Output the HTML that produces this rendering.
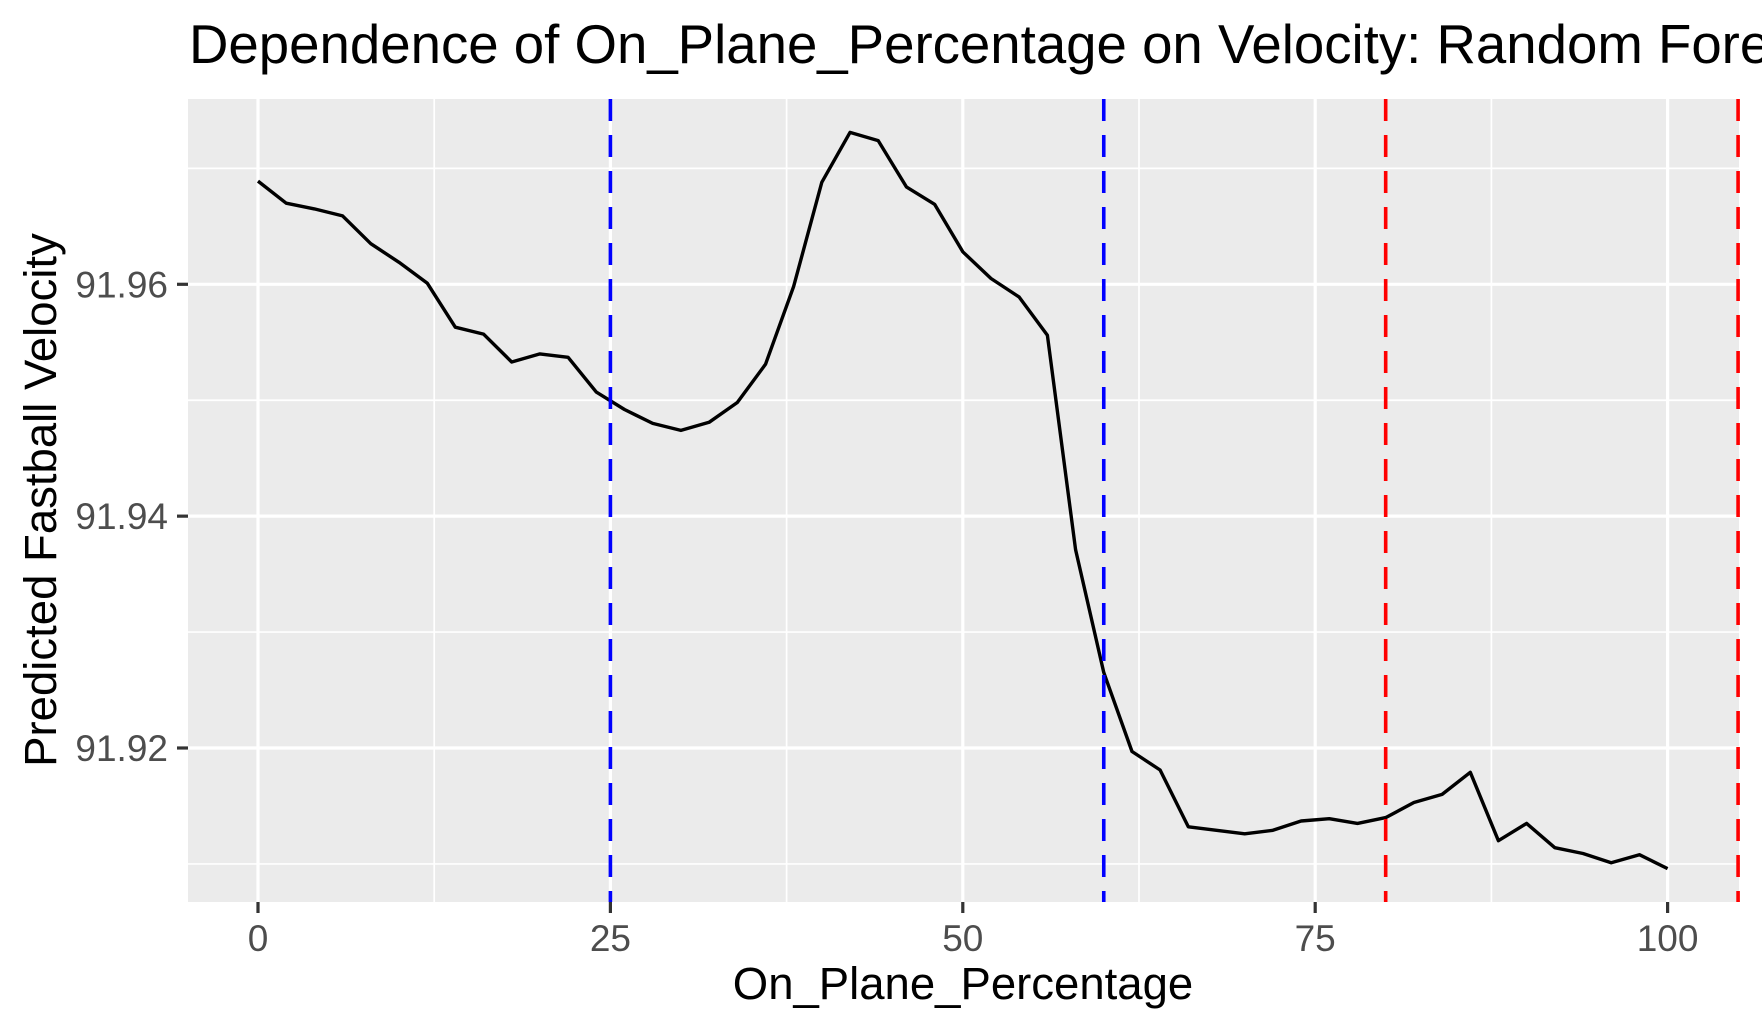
<!DOCTYPE html>
<html><head><meta charset="utf-8"><style>
html,body{margin:0;padding:0;background:#fff;}
svg{display:block;font-family:"Liberation Sans",Arial,sans-serif;}
</style></head><body>
<svg id="chart" width="1762" height="1032" viewBox="0 0 1762 1032" xmlns="http://www.w3.org/2000/svg">
<rect width="1762" height="1032" fill="#fff"/>
<text x="189" y="63" font-size="54.6" fill="#000">Dependence of On_Plane_Percentage on Velocity: Random Forest</text>
<g id="plot"></g>
<text x="963" y="999" font-size="45.5" text-anchor="middle" fill="#000">On_Plane_Percentage</text>
<text transform="translate(56,500) rotate(-90)" font-size="45.5" text-anchor="middle" fill="#000">Predicted Fastball Velocity</text>
</svg>
<script>
const xValues = [0,2,4,6,8,10,12,14,16,18,20,22,24,26,28,30,32,34,36,38,40,42,44,46,48,50,52,54,56,58,60,62,64,66,68,70,72,74,76,78,80,82,84,86,88,90,92,94,96,98,100];
const yValues = [91.9689,91.9670,91.9665,91.9659,91.9635,91.9619,91.9601,91.9563,91.9557,91.9533,91.9540,91.9537,91.9507,91.9492,91.9480,91.9474,91.9481,91.9498,91.9531,91.9598,91.9688,91.9731,91.9724,91.9684,91.9669,91.9628,91.9605,91.9589,91.9556,91.9371,91.9265,91.9197,91.9181,91.9132,91.9129,91.9126,91.9129,91.9137,91.9139,91.9135,91.9140,91.9153,91.9160,91.9179,91.9120,91.9135,91.9114,91.9109,91.9101,91.9108,91.9096];
const xTicks = [0,25,50,75,100];
const xMinor = [12.5,37.5,62.5,87.5];
const yTicks = [91.92,91.94,91.96];
const yTickLabels = ["91.92","91.94","91.96"];
const yMinor = [91.91,91.93,91.95,91.97];
const blueLines = [25,60];
const redLines = [80,105];

const NS = "http://www.w3.org/2000/svg";
const L = 188, R = 1739, T = 99, B = 902;
const sx = v => 258 + (v - 0) * (1667.6 - 258) / 100;
const sy = v => 748 - (v - 91.92) * (748 - 284.3) / 0.04;
const g = document.getElementById('plot');
function mk(tag, attrs){ const e = document.createElementNS(NS, tag); for (const k in attrs) e.setAttribute(k, attrs[k]); g.appendChild(e); return e; }

const panel = mk('rect',{x:L,y:T,width:R-L,height:B-T,fill:'#ebebeb'});



yMinor.forEach(v=>{ const e=mk('line',{x1:L,x2:R,y1:sy(v),y2:sy(v),stroke:'#fff','stroke-width':1.7});

 });
xMinor.forEach(v=>{ const e=mk('line',{x1:sx(v),x2:sx(v),y1:T,y2:B,stroke:'#fff','stroke-width':1.7});

 });
yTicks.forEach((v,i)=>{ const e=mk('line',{x1:L,x2:R,y1:sy(v),y2:sy(v),stroke:'#fff','stroke-width':3.2});


const t=mk('line',{x1:L-11,x2:L,y1:sy(v),y2:sy(v),stroke:'#333','stroke-width':3.2});


const lb=mk('text',{x:L-20,y:sy(v)+13,'font-size':37,fill:'#4d4d4d','text-anchor':'end'}); lb.textContent=yTickLabels[i];

 });
xTicks.forEach(v=>{ const e=mk('line',{x1:sx(v),x2:sx(v),y1:T,y2:B,stroke:'#fff','stroke-width':3.2});


const t=mk('line',{x1:sx(v),x2:sx(v),y1:B,y2:B+11,stroke:'#333','stroke-width':3.2});


const lb=mk('text',{x:sx(v),y:951,'font-size':37,fill:'#4d4d4d','text-anchor':'middle'}); lb.textContent=String(v);

 });

const pts = xValues.map((x,i)=>sx(x).toFixed(1)+','+sy(yValues[i]).toFixed(1)).join(' ');
const line = mk('polyline',{points:pts,fill:'none',stroke:'#000','stroke-width':3.4,'stroke-linejoin':'round'});



blueLines.forEach(v=>{ const e=mk('line',{x1:sx(v),x2:sx(v),y1:T,y2:B,stroke:'#0000ff','stroke-width':3.6,'stroke-dasharray':'22 14'});

 });
redLines.forEach(v=>{ const e=mk('line',{x1:sx(v),x2:sx(v),y1:T,y2:B,stroke:'#ff0000','stroke-width':3.6,'stroke-dasharray':'22 14'});

 });
</script>
</body></html>
